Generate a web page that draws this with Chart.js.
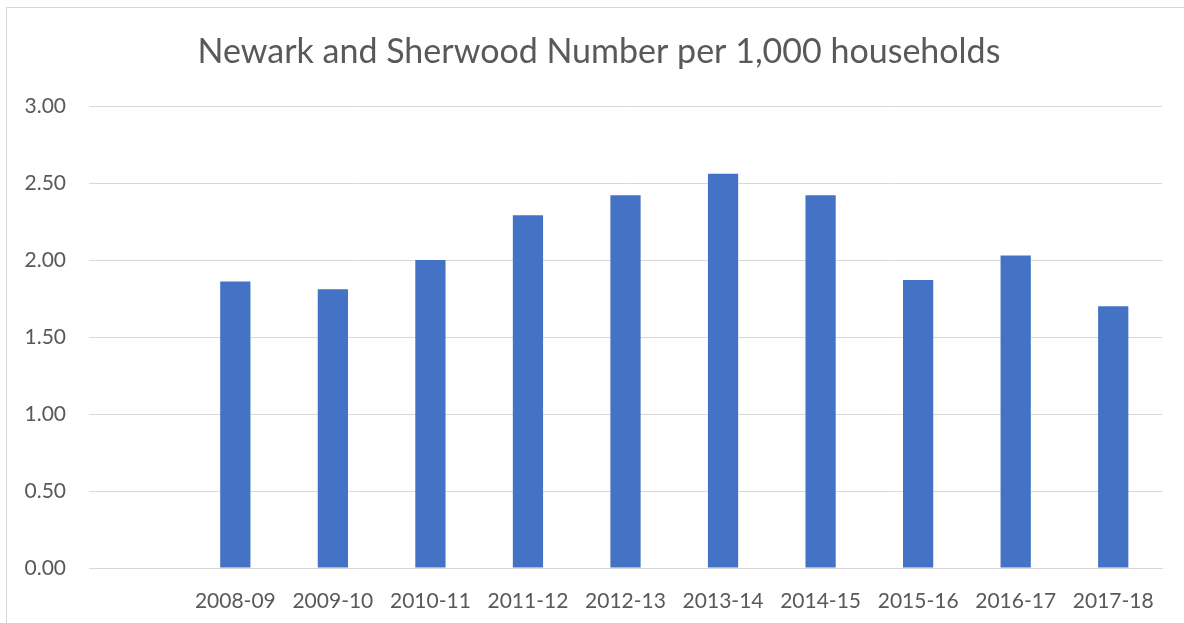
<!DOCTYPE html>
<html>
<head>
<meta charset="utf-8">
<script src="https://cdn.jsdelivr.net/npm/chart.js@4/dist/chart.umd.min.js"></script>
<style>
  html, body { margin: 0; padding: 0; background: #fff; overflow: hidden; }
  #wrap { position: relative; width: 1184px; height: 623px; }
  #frame { position: absolute; left: 6px; top: 7px; width: 1200px; height: 700px; border: 1px solid #d9d9d9; box-sizing: border-box; }
  canvas { position: absolute; left: 0; top: 0; }
</style>
</head>
<body>
<div id="wrap">
  <div id="frame"></div>
  <canvas id="myChart" width="1184" height="623"></canvas>
</div>
<script>
// blank first category, like the source sheet
var years = ['', '2008-09', '2009-10', '2010-11', '2011-12', '2012-13', '2013-14', '2014-15', '2015-16', '2016-17', '2017-18'];
var perThousand = [null, 1.86, 1.81, 2.00, 2.29, 2.42, 2.56, 2.42, 1.87, 2.03, 1.70];
var yTicks = [0, 0.5, 1, 1.5, 2, 2.5, 3];
var titleText = 'Newark and Sherwood Number per 1,000 households';

var grey = '#595959';
var gridGrey = '#d9d9d9';

// title sits a bit right of the canvas centre in the original, so draw it ourselves
var titleDraw = {
  id: 'titleDraw',
  afterDraw: function (chart) {
    var c = chart.ctx;
    c.save();
    c.fillStyle = grey;
    c.font = '34px Lato';
    c.textAlign = 'center';
    c.textBaseline = 'middle';
    c.fillText(titleText, 599, 52);
    c.restore();
  }
};

const ctx = document.getElementById('myChart');
const myChart = new Chart(ctx, {
  type: 'bar',
  data: {
    labels: years,
    datasets: [{
      label: 'Number per 1,000 households',
      data: perThousand,
      backgroundColor: '#4472c4',
      borderWidth: 0,
      barPercentage: 0.31,
      categoryPercentage: 1
    }]
  },
  options: {
    responsive: false,
    animation: false,
    layout: { padding: { left: 0, right: 22, top: 106, bottom: 0 } },
    plugins: {
      legend: { display: false },
      tooltip: { enabled: false },
      title: { display: false }
    },
    scales: {
      x: {
        grid: { display: false },
        border: { display: true, color: gridGrey, width: 1 },
        ticks: {
          color: grey,
          font: { family: 'Lato', size: 21 },
          padding: 13,
          maxRotation: 0,
          autoSkip: false
        },
        afterFit: function (scale) { scale.height = 55; }
      },
      y: {
        min: 0,
        max: 3,
        afterBuildTicks: function (scale) {
          scale.ticks = yTicks.map(function (v) { return { value: v }; });
        },
        grid: { color: gridGrey, lineWidth: 1, drawTicks: false },
        border: { display: false },
        ticks: {
          color: grey,
          font: { family: 'Lato', size: 21 },
          padding: 23,
          callback: function (v) { return Number(v).toFixed(2); }
        },
        afterFit: function (scale) { scale.width = 89; }
      }
    }
  },
  plugins: [titleDraw]
});
</script>
</body>
</html>
